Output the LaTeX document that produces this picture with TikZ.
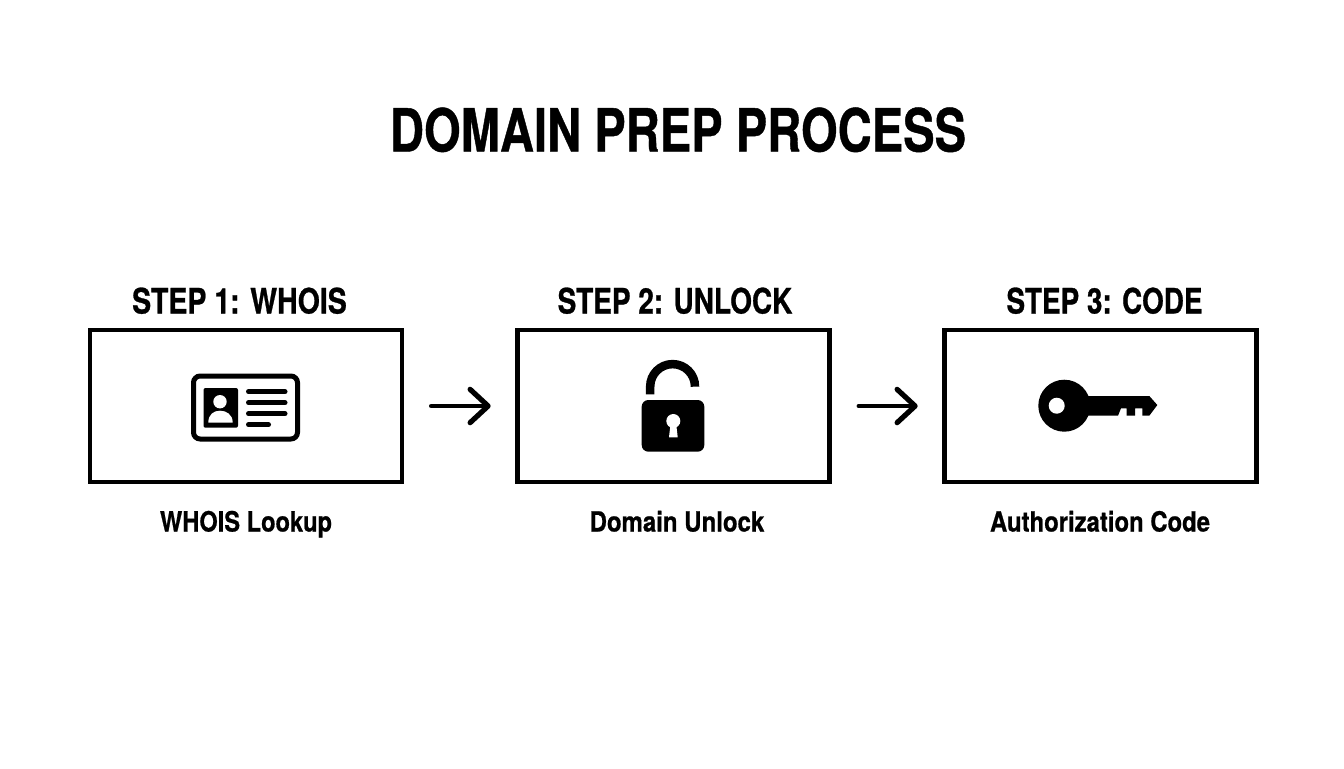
\documentclass[tikz,border=0pt]{standalone}
\usepackage{fontspec}
\setmainfont{TeX Gyre Heros}[BoldFeatures={FakeBold=0.8}]
\usetikzlibrary{arrows.meta}
\tikzset{
  x=0.75pt,y=-0.75pt,
  stepbox/.style={draw=black,line width=3.2pt,minimum width=234pt,minimum height=114.5pt,inner sep=0pt,fill=white},
  lbl/.style={inner sep=0pt,text=black,anchor=base},
  flow/.style={draw=black,line width=3.7pt,line cap=round,line join=round,shorten <=20.5pt,shorten >=18.5pt,
    -{Straight Barb[length=13.5pt,width=25pt,line width=3.9pt,round]}},
  iconline/.style={draw=black,line width=3.75pt,line cap=round}
}
\newcommand{\fitted}[3]{\resizebox{#1}{#2}{\bfseries #3}}
\begin{document}
\begin{tikzpicture}
\useasboundingbox (0,0) rectangle (1344,768);
\fill[white] (0,0) rectangle (1344,768);
\node[lbl] (title) at (678,151.5) {\fitted{432pt}{33pt}{DOMAIN PREP PROCESS}};
\node[stepbox] (a) at (246,406) {};
\node[stepbox] (b) at (673.5,406) {};
\node[stepbox] (c) at (1100.5,406) {};
\node[lbl] (ah) at (239.5,313.5) {\fitted{161pt}{19.5pt}{STEP 1: WHOIS}};
\node[lbl] (bh) at (675,313.5) {\fitted{176pt}{19.5pt}{STEP 2: UNLOCK}};
\node[lbl] (ch) at (1104.5,313.5) {\fitted{147pt}{19.5pt}{STEP 3: CODE}};
\node[lbl] (al) at (246,531.5) {\fitted{129pt}{15.5pt}{WHOIS Lookup}};
\node[lbl] (bl) at (677,531.5) {\fitted{131pt}{15.5pt}{Domain Unlock}};
\node[lbl] (cl) at (1100,531.5) {\fitted{165pt}{15.5pt}{Authorization Code}};
\draw[flow] (a) -- (b);
\draw[flow] (b) -- (c);
% ID card
\draw[draw=black,line width=3.75pt,rounded corners=5pt] (193.5,376) rectangle (297.5,439);
\fill[black,rounded corners=1.5pt] (203.5,388) rectangle (238,427.7);
\fill[white] (220,401.7) circle[radius=6.7];
\fill[white] (208.3,422.7) .. controls (208.3,414) and (214,410.7) .. (220,410.7) .. controls (226,410.7) and (232.7,414) .. (232.7,422.7) -- cycle;
\draw[iconline] (248.5,391.7) -- (285,391.7);
\draw[iconline] (248.5,402.7) -- (285,402.7);
\draw[iconline] (248.5,413.7) -- (285,413.7);
\draw[iconline] (248.5,424.7) -- (268.5,424.7);
% padlock
\fill[black,rounded corners=5pt] (641.7,400) rectangle (704.3,451.7);
\draw[draw=black,line width=6.4pt] (650.2,394.3) -- (650.2,386.5) arc[start angle=180,end angle=360,radius=22.4] -- (695,386.7);
\fill[white] (673.3,421) circle[radius=7];
\fill[white] (670.5,424) -- (669,437.3) -- (677.7,437.3) -- (676.2,424) -- cycle;
% key
\fill[black] (1064.3,405.7) circle[radius=26];
\fill[black] (1080,396) -- (1149.3,396) -- (1157.3,405) -- (1149.3,415.7) -- (1142.3,415.7) -- (1142.3,408.3) -- (1135,408.3) -- (1135,415.7) -- (1126.7,415.7) -- (1126.7,408.3) -- (1121,408.3) -- (1118,415.7) -- (1080,415.7) -- cycle;
\fill[white] (1056.7,405.7) circle[radius=8];
\end{tikzpicture}
\end{document}
